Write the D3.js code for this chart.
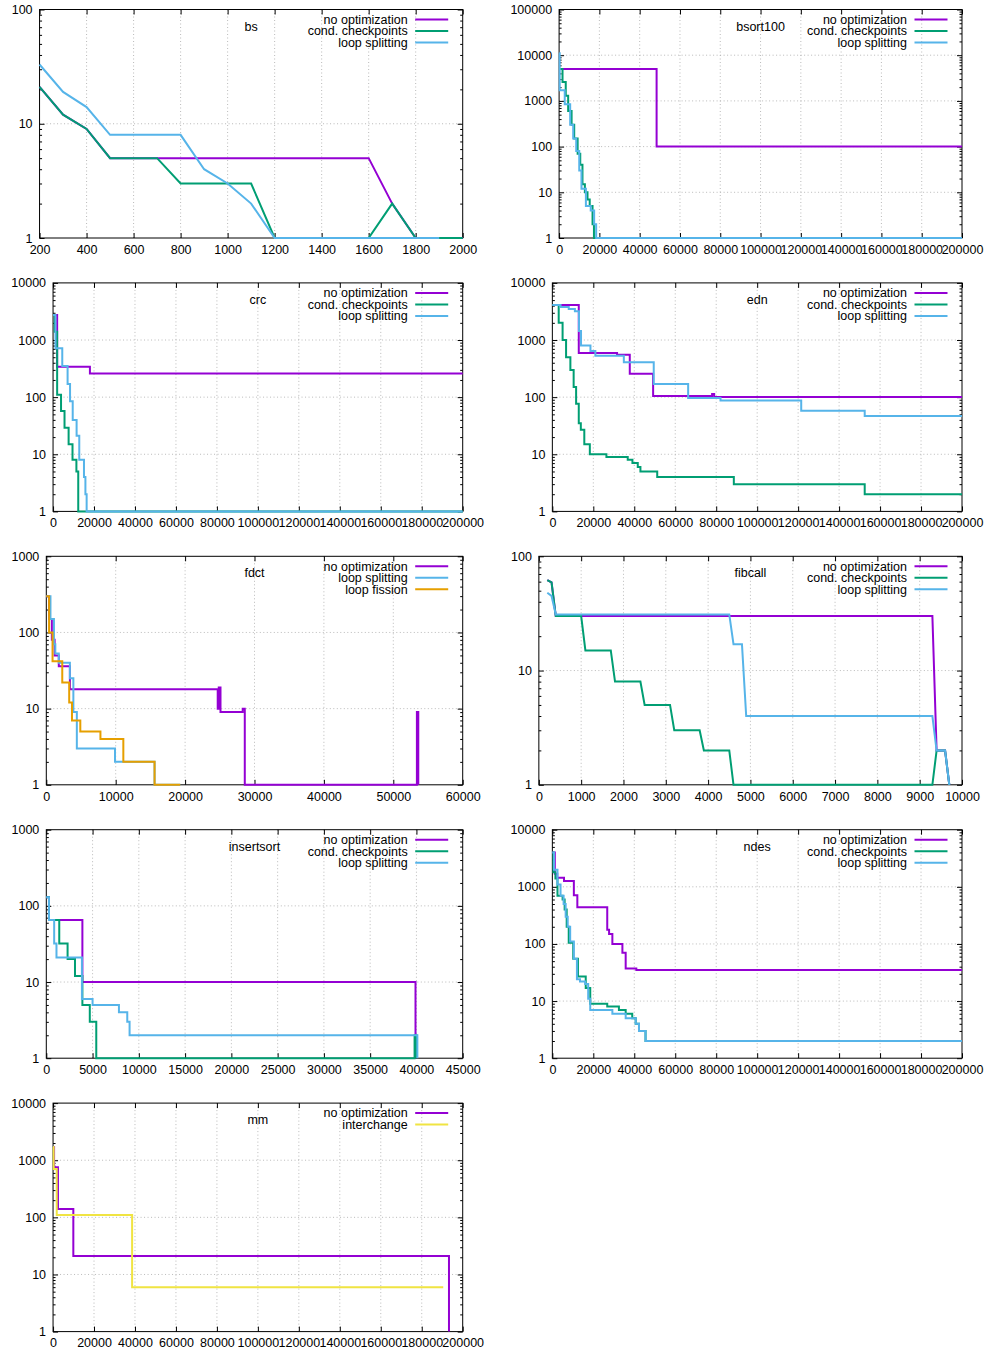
<!DOCTYPE html>
<html>
<head>
<meta charset="utf-8">
<script src="https://cdn.jsdelivr.net/npm/d3@7"></script>
<style>
  body { margin: 0; background: #fff; }
  svg { display: block; font-family: "Liberation Sans", Arial, Helvetica, sans-serif; }
</style>
</head>
<body>
<svg id="chart" width="988" height="1353"></svg>
<script>
// ---- data: [x, value] pairs ----
const bsNoOpt = [[200,21],[300,12],[400,9],[500,5],[600,5],[700,5],[800,5],[900,5],[1000,5],[1100,5],[1200,5],[1300,5],[1400,5],[1500,5],[1600,5],[1700,2],[1800,1],[1900,1],[2000,1]];
const bsCond = [[200,21],[300,12],[400,9],[500,5],[600,5],[700,5],[800,3],[900,3],[1000,3],[1100,3],[1200,1],[1300,1],[1400,1],[1500,1],[1600,1],[1700,2],[1800,1],[1900,1],[2000,1]];
const bsSplit = [[200,33],[300,19],[400,14],[500,8],[600,8],[700,8],[800,8],[900,4],[1000,3],[1100,2],[1200,1],[1300,1],[1400,1],[1500,1],[1600,1],[1700,1],[1800,1],[1900,1]];

const bsortNoOpt = [[0,5000],[48400,100],[200000,100]];
const bsortCond = [[0,5000],[1700,2600],[3300,1300],[4500,600],[6200,300],[7500,150],[9200,70],[10500,40],[11600,15],[12800,10],[14100,7],[15200,5],[16600,2],[17300,1],[200000,1]];
const bsortSplit = [[0,11000],[300,1700],[2800,850],[5500,300],[7000,150],[8500,80],[10000,30],[11100,12],[13300,5],[15700,4],[17400,2],[18400,1],[200000,1]];

const crcNoOpt = [[0,2750],[2000,340],[18000,260],[200000,260]];
const crcCond = [[0,2750],[800,1400],[2000,110],[3900,57],[5600,29],[7600,15],[9500,8],[11400,5],[12300,1],[200000,1]];
const crcSplit = [[0,2750],[1200,720],[4500,350],[7100,170],[8300,85],[9600,40],[11500,21],[12800,8],[15100,4],[15800,2],[16400,1],[200000,1]];

const ednNoOpt = [[0,4100],[12900,590],[31600,550],[37800,256],[49200,105],[78000,113],[79000,101],[200000,101]];
const ednCond = [[0,4100],[3100,2000],[5000,1000],[6700,500],[8800,300],[10400,150],[11600,77],[12900,35],[13900,27],[15600,15],[18300,10],[26400,9],[36800,8],[39100,7],[41700,6],[43000,5],[51200,4],[88600,3],[152500,2],[200000,2]];
const ednSplit = [[0,4100],[4000,3800],[8000,3500],[11000,3200],[13000,1440],[14000,800],[18600,640],[21000,530],[34900,410],[49500,170],[66300,97],[82100,87],[121500,58],[152500,47],[200000,47]];

const fdctNoOpt = [[0,300],[400,150],[800,80],[1200,50],[1800,36],[3400,18],[24700,10],[24850,19],[25100,9],[28300,10],[28600,1],[53400,9],[53600,1]];
const fdctSplit = [[0,300],[600,150],[1100,70],[1300,53],[1800,40],[3400,25],[3900,9],[4400,3],[9900,2],[15600,1],[19300,1]];
const fdctFission = [[0,300],[400,100],[900,42],[2300,22],[3300,12],[3700,7],[4900,5],[7800,4],[11100,2],[15600,1],[19300,1]];

const fibNoOpt = [[200,62],[300,59],[400,30],[9300,30],[9400,2],[9600,2],[9700,1]];
const fibCond = [[200,62],[300,59],[400,30],[1000,30],[1100,15],[1700,15],[1800,8],[2400,8],[2500,5],[3100,5],[3200,3],[3800,3],[3900,2],[4500,2],[4600,1],[9300,1],[9400,2],[9600,2],[9700,1]];
const fibSplit = [[200,48],[300,45],[400,31],[4500,31],[4600,17],[4800,17],[4900,4],[9300,4],[9400,2],[9600,2],[9700,1]];

const insNoOpt = [[0,130],[290,65],[3900,10],[39900,1]];
const insCond = [[0,130],[290,65],[1400,32],[2300,20],[3100,12],[3900,5],[4700,3],[5400,1],[39800,2],[40000,1]];
const insSplit = [[0,130],[290,65],[850,32],[1100,21],[3850,6],[5000,5],[7850,4],[8750,3],[9000,2],[40100,1]];

const ndesNoOpt = [[0,4000],[1200,1700],[2400,1440],[5700,1260],[10500,710],[12200,440],[26800,178],[27700,150],[29300,100],[34200,70],[35800,37],[41000,35],[200000,35]];
const ndesCond = [[0,4000],[500,1800],[1500,1400],[2500,700],[5000,600],[6000,400],[7000,200],[8000,105],[10200,55],[12500,27],[16300,17],[18500,9],[26800,8],[32500,7],[35800,6],[39000,5],[40700,4],[42300,3],[45500,2],[200000,2]];
const ndesSplit = [[0,4000],[800,2000],[2500,1100],[4000,700],[5500,500],[6500,300],[7500,200],[8700,110],[10500,55],[12000,24],[13500,22],[16000,20],[17500,11],[18500,7],[29300,6],[35800,5],[40700,4],[42300,3],[45500,2],[200000,2]];

const mmNoOpt = [[0,1700],[500,750],[2400,140],[9900,21],[193300,1]];
const mmInterchange = [[0,1700],[300,700],[1800,110],[38600,6],[190500,6]];

const PURPLE = "#9400d3", GREEN = "#009e73", BLUE = "#56b4e9", ORANGE = "#e69f00", YELLOW = "#f0e442";

// benchmark, grid cell, x range and tick step, top decade, line mode, series
const panels = [
  { title: "bs", col: 0, row: 0, x: [200, 2000], step: 200, yMax: 100, steps: false,
    series: [["no optimization", bsNoOpt, PURPLE], ["cond. checkpoints", bsCond, GREEN], ["loop splitting", bsSplit, BLUE]] },
  { title: "bsort100", col: 1, row: 0, x: [0, 200000], step: 20000, yMax: 100000, steps: true,
    series: [["no optimization", bsortNoOpt, PURPLE], ["cond. checkpoints", bsortCond, GREEN], ["loop splitting", bsortSplit, BLUE]] },
  { title: "crc", col: 0, row: 1, x: [0, 200000], step: 20000, yMax: 10000, steps: true,
    series: [["no optimization", crcNoOpt, PURPLE], ["cond. checkpoints", crcCond, GREEN], ["loop splitting", crcSplit, BLUE]] },
  { title: "edn", col: 1, row: 1, x: [0, 200000], step: 20000, yMax: 10000, steps: true,
    series: [["no optimization", ednNoOpt, PURPLE], ["cond. checkpoints", ednCond, GREEN], ["loop splitting", ednSplit, BLUE]] },
  { title: "fdct", col: 0, row: 2, x: [0, 60000], step: 10000, yMax: 1000, steps: true,
    series: [["no optimization", fdctNoOpt, PURPLE], ["loop splitting", fdctSplit, BLUE], ["loop fission", fdctFission, ORANGE]] },
  { title: "fibcall", col: 1, row: 2, x: [0, 10000], step: 1000, yMax: 100, steps: false,
    series: [["no optimization", fibNoOpt, PURPLE], ["cond. checkpoints", fibCond, GREEN], ["loop splitting", fibSplit, BLUE]] },
  { title: "insertsort", col: 0, row: 3, x: [0, 45000], step: 5000, yMax: 1000, steps: true,
    series: [["no optimization", insNoOpt, PURPLE], ["cond. checkpoints", insCond, GREEN], ["loop splitting", insSplit, BLUE]] },
  { title: "ndes", col: 1, row: 3, x: [0, 200000], step: 20000, yMax: 10000, steps: true,
    series: [["no optimization", ndesNoOpt, PURPLE], ["cond. checkpoints", ndesCond, GREEN], ["loop splitting", ndesSplit, BLUE]] },
  { title: "mm", col: 0, row: 4, x: [0, 200000], step: 20000, yMax: 10000, steps: true,
    series: [["no optimization", mmNoOpt, PURPLE], ["interchange", mmInterchange, YELLOW]] }
];

const svg = d3.select("#chart");
const FONT = 12.5;
const colX = [0, 499.3];

panels.forEach((p) => {
  const digits = String(p.yMax).length;
  const left = colX[p.col] + 19.3 + 6.75 * digits;
  const right = colX[p.col] + 462.7;
  const top = 9.5 + 273.4 * p.row;
  const bottom = top + 228.5;

  const x = d3.scaleLinear().domain(p.x).range([left, right]);
  const y = d3.scaleLog().domain([1, p.yMax]).range([bottom, top]);

  const xTicks = d3.range(p.x[0], p.x[1] + 1, p.step);
  const yTicks = [];
  for (let v = 1; v <= p.yMax; v *= 10) yTicks.push(v);
  const yMinor = [];
  yTicks.slice(0, -1).forEach((d) => { for (let k = 2; k < 10; k++) yMinor.push(d * k); });

  const g = svg.append("g").attr("class", "panel");

  // dotted grid
  const grid = g.append("g").attr("stroke", "#a8a8a8").attr("stroke-width", 0.8)
    .attr("stroke-dasharray", "1,2.5");
  grid.selectAll(".gx").data(xTicks.slice(1, -1)).join("line")
    .attr("x1", (d) => x(d)).attr("x2", (d) => x(d)).attr("y1", top).attr("y2", bottom);
  grid.selectAll(".gy").data(yTicks.slice(1, -1)).join("line")
    .attr("y1", (d) => y(d)).attr("y2", (d) => y(d)).attr("x1", left).attr("x2", right);

  // axes with inward ticks, mirrored on the opposite side
  const styleAxis = (sel) => {
    sel.select(".domain").remove();
    sel.selectAll(".tick line").attr("stroke", "#000");
    sel.selectAll("text").attr("font-size", FONT).attr("fill", "#000");
    sel.attr("font-family", null);
  };
  g.append("g").attr("transform", `translate(0,${bottom})`)
    .call(d3.axisBottom(x).tickValues(xTicks).tickSizeInner(-5).tickSizeOuter(0).tickPadding(7).tickFormat(d3.format("d")))
    .call(styleAxis);
  g.append("g").attr("transform", `translate(0,${top})`)
    .call(d3.axisTop(x).tickValues(xTicks).tickSizeInner(-5).tickSizeOuter(0).tickFormat(""))
    .call(styleAxis);
  g.append("g").attr("transform", `translate(${left},0)`)
    .call(d3.axisLeft(y).tickValues(yTicks).tickSizeInner(-5).tickSizeOuter(0).tickPadding(7).tickFormat(d3.format("d")))
    .call(styleAxis);
  g.append("g").attr("transform", `translate(${left},0)`)
    .call(d3.axisLeft(y).tickValues(yMinor).tickSizeInner(-2.5).tickSizeOuter(0).tickFormat(""))
    .call(styleAxis);
  g.append("g").attr("transform", `translate(${right},0)`)
    .call(d3.axisRight(y).tickValues(yTicks).tickSizeInner(-5).tickSizeOuter(0).tickFormat(""))
    .call(styleAxis);
  g.append("g").attr("transform", `translate(${right},0)`)
    .call(d3.axisRight(y).tickValues(yMinor).tickSizeInner(-2.5).tickSizeOuter(0).tickFormat(""))
    .call(styleAxis);

  g.append("rect").attr("x", left).attr("y", top)
    .attr("width", right - left).attr("height", bottom - top)
    .attr("fill", "none").attr("stroke", "#000").attr("stroke-width", 1);

  // series
  const line = d3.line().x((d) => x(d[0])).y((d) => y(d[1]))
    .curve(p.steps ? d3.curveStepAfter : d3.curveLinear);
  g.selectAll(".series").data(p.series).join("path")
    .attr("class", "series")
    .attr("d", (d) => line(d[1]))
    .attr("fill", "none")
    .attr("stroke", (d) => d[2])
    .attr("stroke-width", 2);

  // title
  g.append("text").attr("x", (left + right) / 2).attr("y", top + 21)
    .attr("text-anchor", "middle").attr("font-size", FONT).text(p.title);

  // legend
  const leg = g.selectAll(".leg").data(p.series).join("g")
    .attr("transform", (d, i) => `translate(0,${top + 10 + 11.5 * i})`);
  leg.append("text").attr("x", right - 55).attr("y", 4.3)
    .attr("text-anchor", "end").attr("font-size", FONT).text((d) => d[0]);
  leg.append("line").attr("x1", right - 47.5).attr("x2", right - 14.5)
    .attr("stroke", (d) => d[2]).attr("stroke-width", 2);
});
</script>
</body>
</html>
